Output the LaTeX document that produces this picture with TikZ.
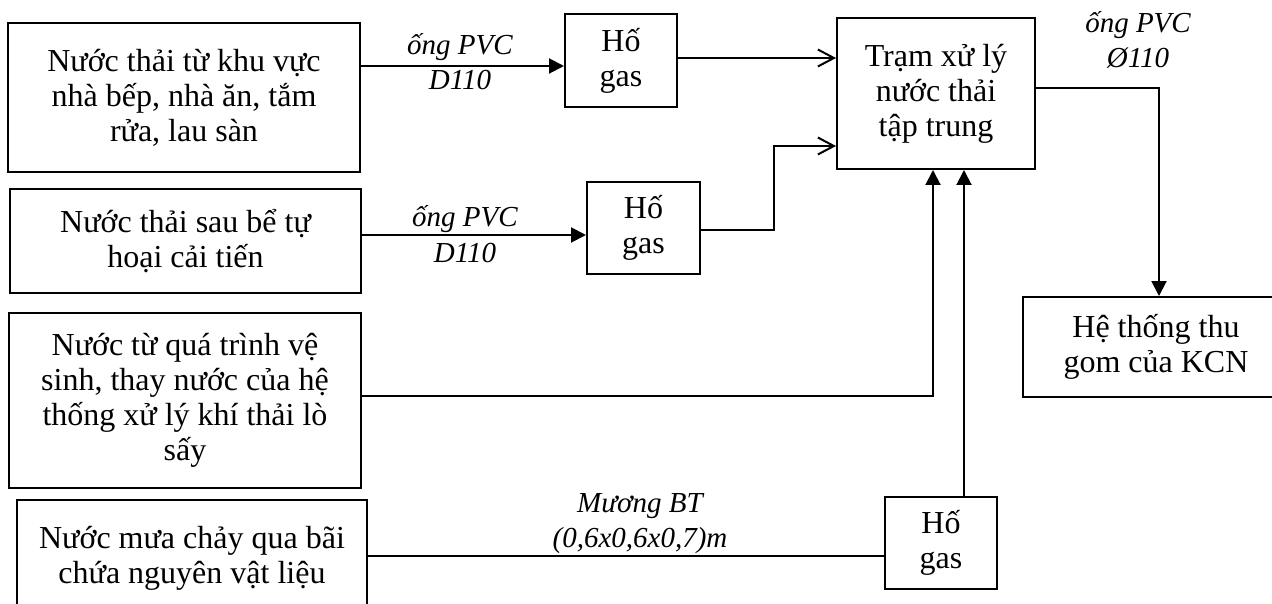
\documentclass[tikz,border=0pt]{standalone}
\usepackage{fontspec}
\setmainfont{Liberation Serif}
\usetikzlibrary{arrows.meta}
\begin{document}
\begin{tikzpicture}[x=1pt,y=-1pt,line width=2pt,
  box/.style={draw,line width=2pt,align=center,inner sep=0pt,font=\fontsize{32}{35}\selectfont},
  lbl/.style={inner sep=0pt,anchor=base,font=\fontsize{29}{34}\selectfont\itshape},
  farrow/.style={-{Triangle[length=15pt,width=15pt]}},
  oarrow/.style={-{Straight Barb[length=16pt,width=17pt,line width=2pt]}}]
\useasboundingbox (0,0) rectangle (1272,604);
% boxes
\node[box,minimum width=352pt,minimum height=149pt] (b1) at (184,97.5) {Nước thải từ khu vực\\nhà bếp, nhà ăn, tắm\\rửa, lau sàn};
\node[box,minimum width=351pt,minimum height=104pt] (b2) at (185.5,241) {Nước thải sau bể tự\\hoại cải tiến};
\node[box,minimum width=352pt,minimum height=175pt] (b3) at (185,400.5) {Nước từ quá trình vệ\\sinh, thay nước của hệ\\thống xử lý khí thải lò\\sấy};
\node[box,minimum width=350pt,minimum height=120pt] (b4) at (192,560) {Nước mưa chảy qua bãi\\chứa nguyên vật liệu\\[-24pt]\mbox{}};
\node[box,minimum width=112pt,minimum height=93pt] (h1) at (621,60.5) {Hố\\gas};
\node[box,minimum width=113pt,minimum height=92pt] (h2) at (643.5,228) {Hố\\gas};
\node[box,minimum width=112pt,minimum height=92pt] (h3) at (941,543) {Hố\\gas};
\node[box,minimum width=198pt,minimum height=151pt] (tram) at (936,93.5) {Trạm xử lý\\nước thải\\tập trung};
\node[box,minimum width=266pt,minimum height=100pt] (ht) at (1156,347) {Hệ thống thu\\gom của KCN};
% labels
\node[lbl] (l1a) at (460,55) {ống PVC};
\node[lbl] (l1b) at (460,90) {D110};
\node[lbl] (l2a) at (465,227) {ống PVC};
\node[lbl] (l2b) at (465,262) {D110};
\node[lbl] (l3a) at (640,512) {Mương BT};
\node[lbl] (l3b) at (640,547) {(0,6x0,6x0,7)m};
\node[lbl] (l4a) at (1138,33) {ống PVC};
\node[lbl] (l4b) at (1138,68) {Ø110};
% helper coordinates
\coordinate (y66) at (0,66);
\coordinate (y58) at (0,58);
\coordinate (y235) at (0,235);
\coordinate (y230) at (0,230);
\coordinate (y146) at (0,146);
\coordinate (y396) at (0,396);
\coordinate (y556) at (0,556);
\coordinate (y88) at (0,88);
\coordinate (x774) at (774,0);
\coordinate (x933) at (933,0);
\coordinate (x964) at (964,0);
\coordinate (x1159) at (1159,0);
% connectors
\draw[farrow] (b1.east |- y66) -- (h1.west |- y66);
\draw[oarrow] (h1.east |- y58) -- (tram.west |- y58);
\draw[farrow] (b2.east |- y235) -- (h2.west |- y235);
\draw[oarrow] (h2.east |- y230) -- (x774 |- y230) -- (x774 |- y146) -- (tram.west |- y146);
\draw[farrow] (b3.east |- y396) -- (x933 |- y396) -- (x933 |- tram.south);
\draw (b4.east |- y556) -- (h3.west |- y556);
\draw[farrow] (x964 |- h3.north) -- (x964 |- tram.south);
\draw[farrow] (tram.east |- y88) -- (x1159 |- y88) -- (x1159 |- ht.north);
\end{tikzpicture}
\end{document}
